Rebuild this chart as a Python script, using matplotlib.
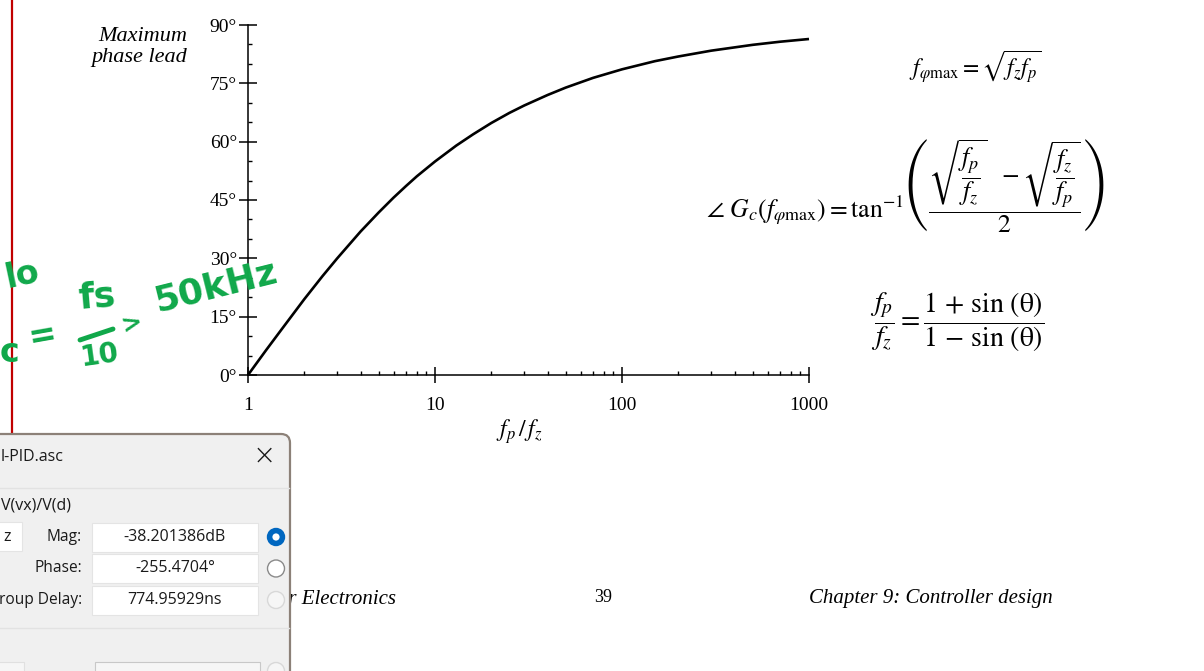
import numpy as np
import matplotlib.pyplot as plt
from matplotlib.patches import FancyBboxPatch, Rectangle, Circle
from matplotlib.ticker import FixedLocator, NullFormatter

plt.rcParams['mathtext.fontset'] = 'stix'

# pole/zero ratio and the maximum phase lead it gives (degrees)
ratio = [1, 1.25, 1.5, 2, 2.5, 3, 4, 5, 6, 7, 8, 10, 13, 16, 20, 25, 30,
         40, 50, 70, 100, 150, 200, 300, 500, 700, 1000]
lead = [0.0, 6.4, 11.5, 19.5, 25.4, 30.0, 36.9, 41.8, 45.6, 48.6, 51.1, 54.9,
        59.0, 61.9, 64.8, 67.4, 69.3, 72.0, 73.9, 76.4, 78.6, 80.7, 81.9,
        83.4, 84.9, 85.7, 86.4]

yticks = [0, 15, 30, 45, 60, 75, 90]
xticks = [1, 10, 100, 1000]
xlabels = ['1', '10', '100', '1000']

# readout values in the simulator probe window
probe_rows = ['Mag:', 'Phase:', 'roup Delay:']
probe_vals = ['-38.201386dB', '-255.4704\u00b0', '774.95929ns']

W, H = 1204, 671
fig = plt.figure(figsize=(W / 100, H / 100), dpi=100)
fig.patch.set_facecolor('white')

serif = 'Liberation Serif'


def pixel_axes(z):
    a = fig.add_axes([0, 0, 1, 1], zorder=z)
    a.set_xlim(0, W)
    a.set_ylim(H, 0)
    a.axis('off')
    a.patch.set_alpha(0)
    return a


ax = fig.add_axes([248 / W, 1 - 375 / H, 561 / W, 350 / H])
ax.plot(ratio, lead, color='black', lw=1.9, solid_capstyle='butt', clip_on=False)
ax.set_xscale('log')
ax.set_xlim(1, 1000)
ax.set_ylim(0, 90)
for s in ['top', 'right']:
    ax.spines[s].set_visible(False)
for s in ['left', 'bottom']:
    ax.spines[s].set_linewidth(1.1)

ax.set_yticks(yticks)
ax.set_yticklabels([f'{v}\u00b0' for v in yticks], fontfamily=serif, fontsize=14)
ax.yaxis.set_minor_locator(FixedLocator([v for v in range(0, 91, 5) if v % 15]))
ax.set_xticks(xticks)
ax.set_xticklabels(xlabels, fontfamily=serif, fontsize=14)
ax.xaxis.set_minor_locator(FixedLocator([m * d for d in (1, 10, 100) for m in range(2, 10)]))
ax.xaxis.set_minor_formatter(NullFormatter())
ax.tick_params(which='major', direction='inout', length=13, width=1.1, pad=1.5)
ax.tick_params(axis='x', which='major', length=12, pad=9.5)
ax.tick_params(which='minor', direction='in', length=3, width=1.0)

fig.text(187 / W, 1 - 47 / H, 'Maximum\nphase lead', ha='right', va='center',
         fontfamily=serif, style='italic', fontsize=16, linespacing=1.15)
fig.text(519 / W, 1 - 432 / H, r'$f_p\,/\,f_z$', ha='center', va='center', fontsize=17)

# design equations
fig.text(975 / W, 1 - 67 / H, r'$f_{\varphi\mathrm{max}} = \sqrt{f_z f_p}$',
         ha='center', va='center', fontsize=17)
fig.text(706 / W, 1 - 186 / H,
         r'$\angle\ G_c(f_{\varphi\mathrm{max}}) = \tan^{-1}\!\left(\dfrac{\sqrt{\dfrac{f_p}{f_z}}\ \ -\sqrt{\dfrac{f_z}{f_p}}}{2}\right)$',
         ha='left', va='center', fontsize=18.5)
fig.text(957 / W, 1 - 322 / H,
         r'$\dfrac{f_p}{f_z} = \dfrac{1\,+\,\sin\,(\mathrm{\theta})}{1\,-\,\sin\,(\mathrm{\theta})}$',
         ha='center', va='center', fontsize=20)

# page furniture
ov = pixel_axes(5)
ov.plot([12, 12], [0, 432], color='#c00000', lw=1.6)

ov.text(396, 599, 'Power Electronics', ha='right', va='center', fontfamily=serif,
        style='italic', fontsize=15)
ov.text(603, 597, '39', ha='center', va='center', fontfamily=serif, fontsize=13)
ov.text(1053, 599, 'Chapter 9: Controller design', ha='right', va='center',
        fontfamily=serif, style='italic', fontsize=15)

# pen notes
green = '#10a84a'
hand = dict(color=green, fontfamily='DejaVu Sans', fontweight='bold', ha='center', va='center')
ov.text(22, 275, 'lo', fontsize=24, rotation=12, **hand)
ov.text(0, 352, 'c', fontsize=24, color=green, fontfamily='DejaVu Sans', fontweight='bold',
        ha='left', va='center')
ov.text(42, 336, '=', fontsize=24, rotation=10, **hand)
ov.text(97, 297, 'fs', fontsize=26, rotation=5, **hand)
ov.plot([80, 113], [340, 329], color=green, lw=3.5, solid_capstyle='round')
ov.text(100, 355, '10', fontsize=20, rotation=8, **hand)
ov.text(132, 324, '>', fontsize=18, rotation=15, **hand)
ov.text(216, 287, '50kHz', fontsize=26, rotation=14, **hand)

# probe window, drawn over the page
dlg = pixel_axes(6)
ui = 'Open Sans'
dlg.add_patch(FancyBboxPatch((-20, 434), 310, 260, boxstyle='round,pad=0,rounding_size=9',
                             facecolor='#f0f0f0', edgecolor='#8c8178', lw=1.6))
dlg.plot([0, 289], [488, 488], color='#e2e2e2', lw=1.0)
dlg.plot([0, 289], [628, 628], color='#e2e2e2', lw=1.0)
dlg.text(1, 457, 'l-PID.asc', ha='left', va='center', fontfamily=ui, fontsize=11.5, color='#1a1a1a')
dlg.text(264, 456, '\u00d7', ha='center', va='center', fontfamily='DejaVu Sans',
         fontsize=20, fontweight='light', color='#1a1a1a')
dlg.text(1, 506, 'V(vx)/V(d)', ha='left', va='center', fontfamily=ui, fontsize=11.5, color='#1a1a1a')
dlg.add_patch(Rectangle((-5, 522), 27, 29, facecolor='white', edgecolor='#e4e4e4', lw=0.8))
dlg.text(3, 537, 'z', ha='left', va='center', fontfamily=ui, fontsize=11.5, color='#1a1a1a')

radio_style = [('#0067c0', '#0067c0'), ('#8a8a8a', 'white'), ('#d8d8d8', '#f6f6f6')]
for i, (lab, val) in enumerate(zip(probe_rows, probe_vals)):
    yc = 537 + i * 31.5
    dlg.text(82, yc, lab, ha='right', va='center', fontfamily=ui, fontsize=11.2, color='#1a1a1a')
    dlg.add_patch(Rectangle((92, yc - 14.5), 166, 29, facecolor='white', edgecolor='#e4e4e4', lw=0.8))
    dlg.text(175, yc, val, ha='center', va='center', fontfamily=ui, fontsize=11.5, color='#1a1a1a')
    edge, face = radio_style[i]
    dlg.add_patch(Circle((276, yc), 8.5, facecolor=face, edgecolor=edge, lw=1.0))
    if i == 0:
        dlg.add_patch(Circle((276, yc), 3.6, facecolor='white', edgecolor='none'))

dlg.add_patch(Rectangle((-5, 662), 29, 20, facecolor='#f6f6f6', edgecolor='#e0e0e0', lw=0.8))
dlg.add_patch(Rectangle((95, 662), 165, 20, facecolor='#f6f6f6', edgecolor='#c8c8c8', lw=0.8))
dlg.add_patch(Circle((276, 671), 8.5, facecolor='#f6f6f6', edgecolor='#d8d8d8', lw=1.0))

fig.savefig('out.png', dpi=100)
